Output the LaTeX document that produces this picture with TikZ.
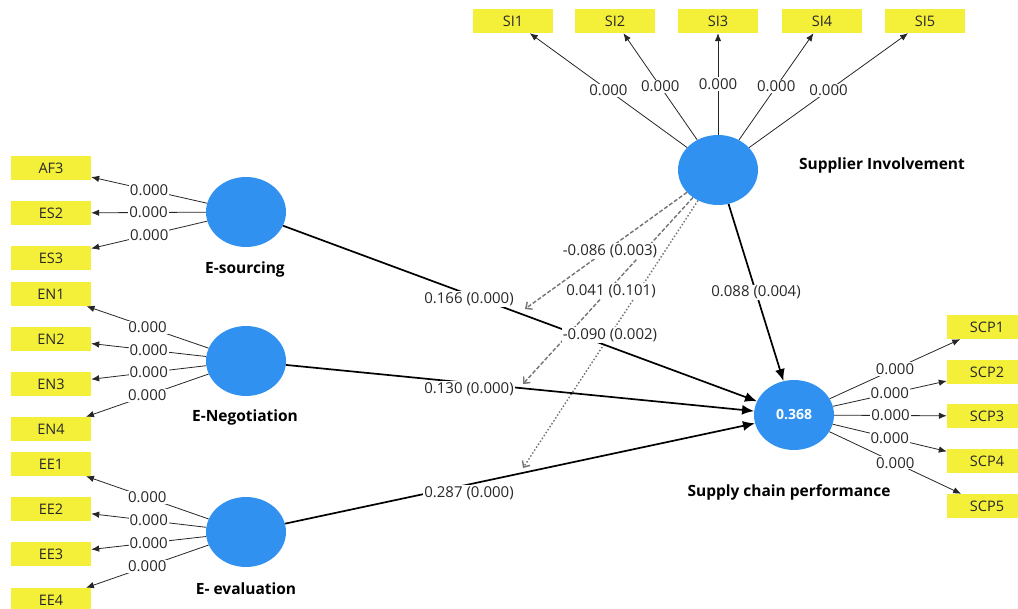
\documentclass[tikz,border=0pt]{standalone}
\usepackage{fontspec}
\setmainfont{Open Sans}
\usetikzlibrary{arrows.meta,shapes.geometric}
\definecolor{indfill}{RGB}{244,240,58}
\definecolor{latfill}{RGB}{48,145,240}
\definecolor{modline}{RGB}{115,115,115}
\definecolor{txt}{RGB}{40,40,40}

\begin{document}
\begin{tikzpicture}[x=1pt,y=-1pt,
  indicator/.style={fill=indfill, minimum width=80pt, minimum height=24pt, inner sep=0pt,
    font=\fontsize{14.5}{15}\selectfont, text=txt},
  latent/.style={ellipse, fill=latfill, minimum width=80pt, minimum height=70pt, inner sep=0pt},
  lvname/.style={font=\fontsize{15.5}{16}\bfseries\selectfont, text=black},
  loading/.style={-{Latex[length=8pt,width=6.5pt]}, line width=0.8pt, draw=black!85},
  path coef/.style={-{Latex[length=12pt,width=10pt]}, line width=1.7pt, draw=black},
  moder/.style={draw=modline, line width=1.4pt, dash pattern=on 4pt off 2pt,
    -{Straight Barb[length=5pt,width=9pt]}},
  moder dotted/.style={moder, dash pattern=on 1.5pt off 2pt},
  weight/.style={fill=white, inner sep=1pt, font=\fontsize{15}{15}\selectfont, text=txt}
]
\useasboundingbox (0,0) rectangle (1018,609);

% latent variables
\node[latent] (es)  at (246,212) {};
\node[latent] (en)  at (246,361) {};
\node[latent] (ee)  at (246,532) {};
\node[latent] (si)  at (718,170) {};
\node[latent] (scp) at (794,415) {\color{white}\fontsize{14}{14}\bfseries\selectfont 0.368};

\node[lvname] (esn)  at (245,269) {E-sourcing};
\node[lvname] (enn)  at (245,417) {E-Negotiation};
\node[lvname] (een)  at (246,589) {E- evaluation};
\node[lvname] (sin)  at (882,165) {Supplier Involvement};
\node[lvname] (scpn) at (789,492) {Supply chain performance};

% indicators
\node[indicator] (af3) at (51,168) {AF3};
\node[indicator] (es2) at (51,213) {ES2};
\node[indicator] (es3) at (51,258) {ES3};
\node[indicator] (en1) at (51,294) {EN1};
\node[indicator] (en2) at (51,339) {EN2};
\node[indicator] (en3) at (51,384) {EN3};
\node[indicator] (en4) at (51,429) {EN4};
\node[indicator] (ee1) at (51,464) {EE1};
\node[indicator] (ee2) at (51,509) {EE2};
\node[indicator] (ee3) at (51,554) {EE3};
\node[indicator] (ee4) at (51,600) {EE4};
\node[indicator] (si1) at (513,21) {SI1};
\node[indicator] (si2) at (615,21) {SI2};
\node[indicator] (si3) at (718,21) {SI3};
\node[indicator] (si4) at (822,21) {SI4};
\node[indicator] (si5) at (925,21) {SI5};
\node[indicator] (scp1) at (987,327) {SCP1};
\node[indicator] (scp2) at (987,372) {SCP2};
\node[indicator] (scp3) at (987,416) {SCP3};
\node[indicator] (scp4) at (987,461) {SCP4};
\node[indicator] (scp5) at (987,506) {SCP5};

% outer loadings
\foreach \lv/\ind in {es/af3, es/es2, es/es3, en/en1, en/en2, en/en3, en/en4,
                      ee/ee1, ee/ee2, ee/ee3, ee/ee4,
                      si/si1, si/si2, si/si3, si/si4, si/si5,
                      scp/scp1, scp/scp2, scp/scp3, scp/scp4, scp/scp5}
  \draw[loading] (\lv) -- node[weight] {0.000} (\ind);

% moderating effects
\coordinate (m1) at (525,309);
\coordinate (m2) at (523,384);
\coordinate (m3) at (523,468);
\draw[moder dotted] (si) -- (m3);
\draw[moder] (si) -- (m2);
\draw[moder] (si) -- (m1);

% structural paths
\draw[path coef] (es) -- (scp);
\draw[path coef] (en) -- (scp);
\draw[path coef] (ee) -- (scp);
\draw[path coef] (si) -- node[weight] (w4) {0.088 (0.004)} (scp);

% path coefficients
\node[weight] (w1) at (469,299) {0.166 (0.000)};
\node[weight] (w2) at (469,389) {0.130 (0.000)};
\node[weight] (w3) at (469,493) {0.287 (0.000)};
\node[weight] (w5) at (610,251) {-0.086 (0.003)};
\node[weight] (w6) at (611,291) {0.041 (0.101)};
\node[weight] (w7) at (610,335) {-0.090 (0.002)};
\end{tikzpicture}
\end{document}
